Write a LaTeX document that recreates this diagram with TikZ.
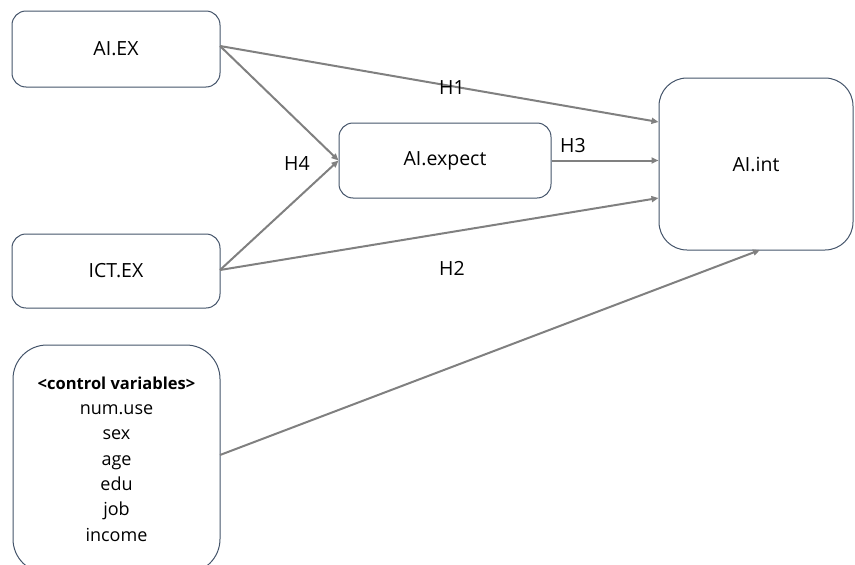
\documentclass[tikz,border=0pt]{standalone}
\usepackage{fontspec}
\setmainfont{Open Sans}
\usetikzlibrary{arrows.meta}
\definecolor{boxc}{HTML}{44546A}
\definecolor{arrc}{HTML}{808080}
\begin{document}
\begin{tikzpicture}[x=1pt,y=-1pt,
  box/.style={draw=boxc,line width=1pt,rounded corners=14pt,inner sep=0pt,font=\fontsize{19.5}{22}\selectfont},
  conn/.style={draw=arrc,line width=2pt,-{Triangle[length=7pt,width=6pt]}},
  lbl/.style={font=\fontsize{19.5}{22}\selectfont,inner sep=0pt}]
\useasboundingbox (0,0) rectangle (855,565);
\node[box,minimum width=208pt,minimum height=76pt] (aiex) at (116,49) {AI.EX};
\node[box,minimum width=208pt,minimum height=74pt] (ictex) at (116,271) {ICT.EX};
\node[box,minimum width=212pt,minimum height=75pt] (exp) at (445,160.5) {AI.expect};
\node[box,rounded corners=28pt,minimum width=194pt,minimum height=172pt] (int) at (756,164) {AI.int};
\node[box,rounded corners=34pt,minimum width=207pt,minimum height=228pt,align=center,font=\fontsize{18}{25.3}\selectfont] (ctrl) at (116.5,459) {{\bfseries\fontsize{16.5}{25.3}\selectfont <control variables>}\\num.use\\sex\\age\\edu\\job\\income};
\coordinate (aiexR) at (220,46);
\coordinate (ictR) at (220,270);
\coordinate (ctrlR) at (220,455);
\draw[conn] (aiexR) -- (int.west |- 0,122);
\draw[conn] (aiexR) -- (exp.west);
\draw[conn] (ictR) -- (exp.west);
\draw[conn] (ictR) -- (int.west |- 0,198);
\draw[conn] (exp.east) -- (int.west |- exp.east);
\draw[conn] (ctrlR) -- (760,250);
\node[lbl] (h1) at (452,88) {H1};
\node[lbl] (h2) at (452,268) {H2};
\node[lbl] (h3) at (573,146) {H3};
\node[lbl] (h4) at (297,163) {H4};
\end{tikzpicture}
\end{document}
